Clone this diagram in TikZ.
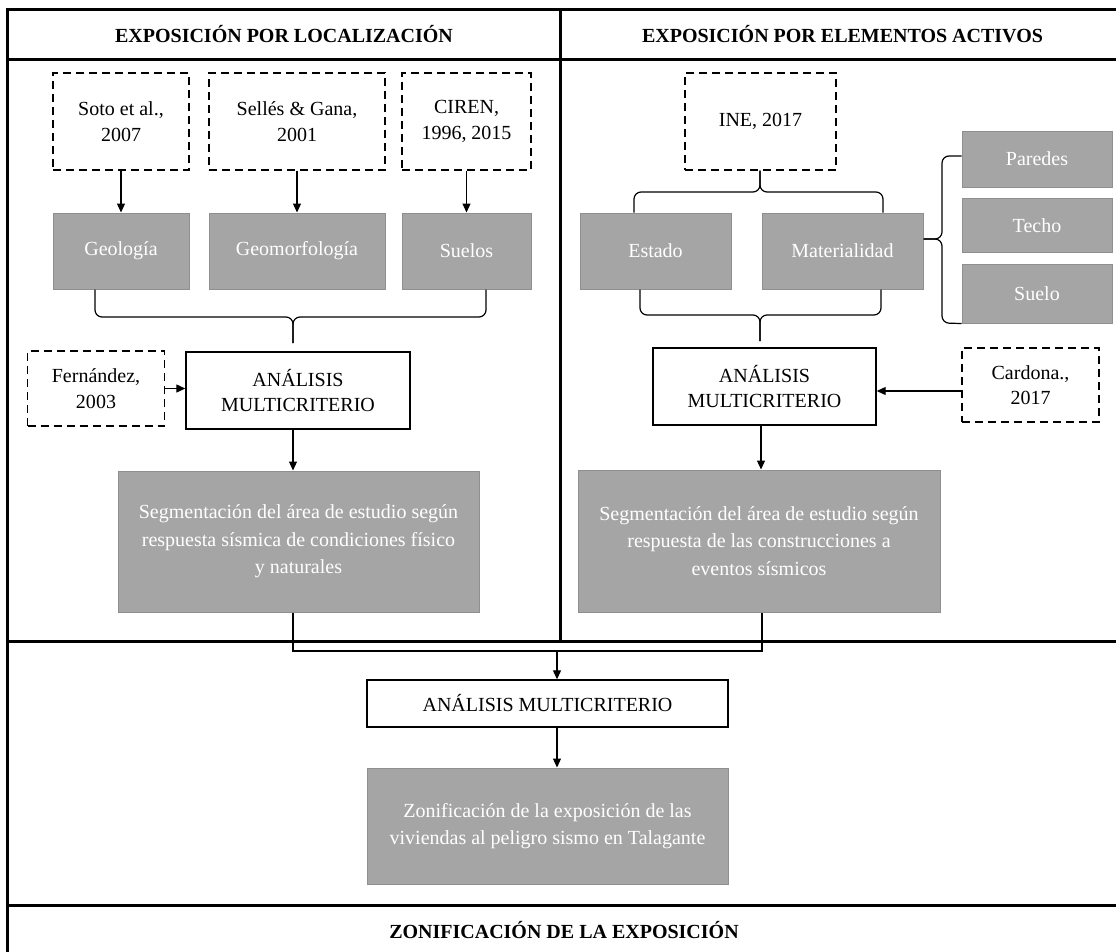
\documentclass[tikz,border=0pt]{standalone}
\usepackage{fontspec}
\setmainfont{Liberation Serif}
\usetikzlibrary{arrows.meta,calc}
\definecolor{boxgray}{HTML}{A5A5A5}
\definecolor{boxedge}{HTML}{8F8F8F}
\begin{document}
\begin{tikzpicture}[x=1pt,y=-1pt,
  tbl/.style={line width=3pt},
  src/.style={draw, dash pattern=on 8pt off 5pt, line width=1.4pt, fill=white, inner sep=0pt, align=center, font=\fontsize{20}{25.5}\selectfont},
  grayb/.style={fill=boxgray, draw=boxedge, line width=1pt, text=white, inner sep=0pt, align=center, font=\fontsize{20}{27.5}\selectfont},
  anab/.style={draw, line width=1.4pt, fill=white, inner sep=0pt, align=center, font=\fontsize{20}{25}\selectfont},
  arr/.style={line width=1.2pt, -{Triangle[length=9pt,width=8pt]}},
  conn/.style={line width=1.2pt},
  brc/.style={line width=1.2pt, rounded corners=7pt},
  hdr/.style={font=\bfseries\fontsize{20}{24}\selectfont, inner sep=0pt}
]
\useasboundingbox (0,0) rectangle (1116,951);
\clip (0,0) rectangle (1116,951);
\fill[white] (0,0) rectangle (1116,951);

% table frame
\draw[tbl] (7.7,9.7) rectangle (1125,962);
\draw[tbl] (7.7,59.7) -- (1125,59.7);
\draw[tbl] (560,9.7) -- (560,641);
\draw[tbl] (7.7,641) -- (1125,641);
\draw[tbl] (7.7,905) -- (1125,905);

% headers
\node[hdr] (h1) at (284,34) {EXPOSICIÓN POR LOCALIZACIÓN};
\node[hdr] (h2) at (842.5,34) {EXPOSICIÓN POR ELEMENTOS ACTIVOS};
\node[hdr] (h3) at (564,930) {ZONIFICACIÓN DE LA EXPOSICIÓN};

% left column
\node[src, minimum width=136pt, minimum height=97pt] (soto) at (121,121.5) {Soto et al.,\\2007};
\node[src, minimum width=176pt, minimum height=97pt] (sel) at (297,121.5) {Sellés \& Gana,\\2001};
\node[src, minimum width=129pt, minimum height=97pt] (cir) at (466.5,121.5) {CIREN,\\1996, 2015};

\node[grayb, minimum width=136pt, minimum height=76pt] (geo) at (121,251) {Geología};
\node[grayb, minimum width=176pt, minimum height=76pt] (gmf) at (297,251) {Geomorfología};
\node[grayb, minimum width=129pt, minimum height=76pt] (sue) at (466.5,251) {Suelos};

\draw[arr] (soto) -- (geo);
\draw[arr] (sel) -- (gmf);
\draw[arr] (cir) -- (sue);

\node[src, minimum width=137pt, minimum height=75pt] (fer) at (96,388.5) {Fernández,\\2003};
\node[anab, minimum width=224pt, minimum height=77pt] (anaL) at (298,390.5) {ANÁLISIS\\MULTICRITERIO};
\node[grayb, minimum width=361pt, minimum height=141pt] (segL) at (298.5,541.5) {Segmentación del área de estudio según\\respuesta sísmica de condiciones físico\\y naturales};

% left brace
\coordinate (lbtip) at (293,343);
\draw[brc] (geo.south -| 95,0) -- (95,317) -- (293,317) -- (lbtip);
\draw[brc] (sue.south -| 486,0) -- (486,317) -- (293,317) -- (lbtip);

\draw[arr] (fer.east) -- (fer.east -| anaL.west);
\draw[arr] (anaL.south -| 293,0) -- (segL.north -| 293,0);

% right column
\node[src, minimum width=151pt, minimum height=97pt] (ine) at (760.5,121.5) {INE, 2017};
\node[grayb, minimum width=151pt, minimum height=76pt] (est) at (655.5,251) {Estado};
\node[grayb, minimum width=161pt, minimum height=76pt] (mat) at (842.5,251) {Materialidad};

\node[grayb, minimum width=150pt, minimum height=56pt] (par) at (1037,159) {Paredes};
\node[grayb, minimum width=150pt, minimum height=54pt] (tec) at (1037,225.5) {Techo};
\node[grayb, minimum width=150pt, minimum height=59pt] (sul) at (1037,293.5) {Suelo};

% brace under INE (tip up)
\coordinate (rtip) at (760,192);
\draw[brc] (ine.south -| 760,0) -- (rtip) -- (634,192) -- (est.north -| 634,0);
\draw[brc] (ine.south -| 760,0) -- (rtip) -- (883,192) -- (mat.north -| 883,0);

% side brace
\coordinate (stip) at (942,239);
\draw[brc] (mat.east |- stip) -- (stip) -- (942,156) -- (par.west |- 0,156);
\draw[brc] (mat.east |- stip) -- (stip) -- (942,323) -- (sul.south west);

\node[anab, minimum width=223pt, minimum height=77pt] (anaR) at (764.5,386.5) {ANÁLISIS\\MULTICRITERIO};
\node[src, minimum width=137pt, minimum height=74pt] (card) at (1030.5,385) {Cardona.,\\2017};
\node[grayb, minimum width=362pt, minimum height=142pt] (segR) at (759,541) {Segmentación del área de estudio según\\respuesta de las construcciones a\\eventos sísmicos};

% brace under Estado / Materialidad
\coordinate (rbtip) at (760,341);
\draw[brc] (est.south -| 640,0) -- (640,315) -- (760,315) -- (rbtip);
\draw[brc] (mat.south -| 881,0) -- (881,315) -- (760,315) -- (rbtip);

\draw[arr] (card.west |- 0,391) -- (anaR.east |- 0,391);
\draw[arr] (anaR.south -| 761,0) -- (segR.north -| 761,0);

% bottom part
\node[anab, minimum width=361pt, minimum height=47pt, font=\fontsize{20}{24}\selectfont] (anaB) at (547.5,703.5) {ANÁLISIS MULTICRITERIO};
\node[grayb, minimum width=361pt, minimum height=116pt] (zon) at (547.5,826) {Zonificación de la exposición de las\\viviendas al peligro sismo en Talagante};

\coordinate (mid) at (557,651);
\draw[conn] (segL.south -| 293,0) -- (293,651) -- (762,651) -- (segR.south -| 762,0);
\draw[arr] (mid) -- (mid |- anaB.north);
\draw[arr] (anaB.south -| mid) -- (zon.north -| mid);
\end{tikzpicture}
\end{document}
